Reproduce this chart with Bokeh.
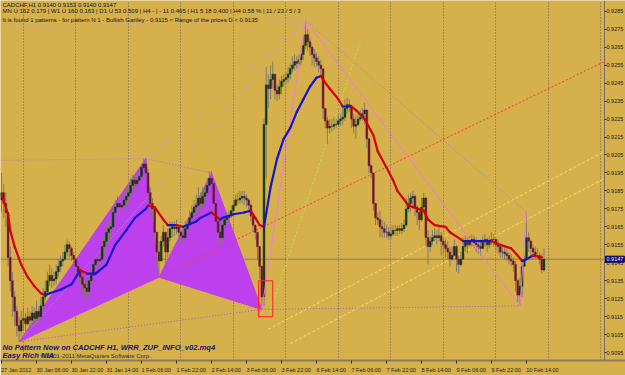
from bokeh.plotting import figure
from bokeh.models import FixedTicker, Range1d, Label
from bokeh.embed import file_html
from bokeh.resources import INLINE

# ---------------- data (CADCHF H1, bars from 27 Jan 2012 14:00) ----------------
first_open = 0.9180
close = [
 0.9184,0.9178,0.9173,0.9148,0.9135,0.9126,0.9118,0.9110,0.9107,0.9113,
 0.9114,0.9111,0.9115,0.9113,0.9117,0.9114,0.9118,0.9115,0.9121,0.9126,
 0.9129,0.9135,0.9138,0.9135,0.9136,0.9140,0.9143,0.9146,0.9147,0.9151,
 0.9155,0.9153,0.9149,0.9147,0.9143,0.9140,0.9137,0.9133,0.9131,0.9129,
 0.9135,0.9138,0.9144,0.9147,0.9146,0.9147,0.9154,0.9157,0.9162,0.9164,
 0.9165,0.9173,0.9176,0.9178,0.9176,0.9177,0.9180,0.9182,0.9184,0.9188,
 0.9191,0.9189,0.9191,0.9193,0.9198,0.9200,0.9195,0.9184,0.9178,0.9175,
 0.9162,0.9151,0.9146,0.9157,0.9162,0.9151,0.9159,0.9164,0.9165,0.9164,
 0.9165,0.9162,0.9160,0.9159,0.9164,0.9166,0.9170,0.9173,0.9176,0.9177,
 0.9181,0.9178,0.9182,0.9184,0.9188,0.9192,0.9189,0.9178,0.9168,0.9162,
 0.9159,0.9166,0.9169,0.9170,0.9171,0.9174,0.9177,0.9180,0.9180,0.9181,
 0.9182,0.9181,0.9180,0.9177,0.9171,0.9166,0.9162,0.9154,0.9143,0.9126,
 0.9222,0.9244,0.9242,0.9247,0.9250,0.9241,0.9239,0.9243,0.9246,0.9247,
 0.9248,0.9250,0.9253,0.9255,0.9257,0.9256,0.9258,0.9261,0.9266,0.9272,
 0.9268,0.9265,0.9261,0.9259,0.9257,0.9255,0.9253,0.9231,0.9224,0.9220,
 0.9221,0.9221,0.9222,0.9222,0.9224,0.9225,0.9226,0.9231,0.9233,0.9232,
 0.9225,0.9221,0.9222,0.9225,0.9226,0.9228,0.9230,0.9214,0.9199,0.9195,
 0.9178,0.9170,0.9169,0.9165,0.9164,0.9162,0.9162,0.9160,0.9161,0.9163,
 0.9163,0.9164,0.9163,0.9164,0.9166,0.9175,0.9178,0.9181,0.9182,0.9176,
 0.9173,0.9169,0.9176,0.9181,0.9159,0.9154,0.9157,0.9159,0.9160,0.9159,
 0.9160,0.9157,0.9155,0.9153,0.9151,0.9147,0.9149,0.9154,0.9147,0.9144,
 0.9147,0.9154,0.9157,0.9155,0.9157,0.9158,0.9156,0.9155,0.9154,0.9153,
 0.9157,0.9158,0.9155,0.9157,0.9158,0.9158,0.9155,0.9154,0.9151,0.9151,
 0.9150,0.9149,0.9147,0.9146,0.9144,0.9135,0.9127,0.9132,0.9143,0.9147,
 0.9159,0.9157,0.9153,0.9151,0.9149,0.9149,0.9147,0.9141,0.9147]
high = [
 0.9195,0.9189,0.9184,0.9173,0.9154,0.9140,0.9129,0.9121,0.9115,0.9118,
 0.9120,0.9117,0.9120,0.9118,0.9121,0.9120,0.9124,0.9121,0.9126,0.9131,
 0.9135,0.9140,0.9144,0.9142,0.9140,0.9144,0.9147,0.9149,0.9151,0.9155,
 0.9158,0.9157,0.9154,0.9151,0.9148,0.9144,0.9142,0.9138,0.9136,0.9135,
 0.9138,0.9143,0.9148,0.9151,0.9150,0.9151,0.9159,0.9160,0.9166,0.9168,
 0.9169,0.9177,0.9180,0.9182,0.9180,0.9181,0.9184,0.9187,0.9188,0.9192,
 0.9194,0.9193,0.9195,0.9198,0.9200,0.9203,0.9203,0.9197,0.9187,0.9181,
 0.9176,0.9162,0.9157,0.9160,0.9166,0.9160,0.9164,0.9168,0.9168,0.9168,
 0.9169,0.9166,0.9165,0.9164,0.9168,0.9169,0.9174,0.9177,0.9180,0.9183,
 0.9187,0.9184,0.9187,0.9188,0.9192,0.9196,0.9196,0.9187,0.9176,0.9169,
 0.9165,0.9170,0.9172,0.9173,0.9174,0.9177,0.9180,0.9183,0.9184,0.9185,
 0.9185,0.9185,0.9183,0.9181,0.9178,0.9170,0.9166,0.9162,0.9154,0.9143,
 0.9225,0.9254,0.9250,0.9255,0.9257,0.9247,0.9244,0.9247,0.9249,0.9250,
 0.9251,0.9254,0.9256,0.9260,0.9261,0.9260,0.9261,0.9266,0.9272,0.9280,
 0.9275,0.9270,0.9266,0.9264,0.9262,0.9260,0.9258,0.9250,0.9230,0.9226,
 0.9225,0.9225,0.9226,0.9225,0.9227,0.9228,0.9231,0.9236,0.9237,0.9236,
 0.9233,0.9228,0.9227,0.9228,0.9230,0.9231,0.9234,0.9225,0.9214,0.9200,
 0.9195,0.9177,0.9173,0.9174,0.9169,0.9168,0.9166,0.9165,0.9165,0.9166,
 0.9166,0.9166,0.9166,0.9167,0.9169,0.9181,0.9183,0.9184,0.9185,0.9183,
 0.9177,0.9174,0.9181,0.9184,0.9182,0.9163,0.9160,0.9163,0.9164,0.9163,
 0.9165,0.9162,0.9159,0.9158,0.9157,0.9154,0.9154,0.9158,0.9155,0.9149,
 0.9151,0.9159,0.9160,0.9159,0.9160,0.9161,0.9160,0.9159,0.9158,0.9158,
 0.9160,0.9161,0.9159,0.9160,0.9162,0.9161,0.9159,0.9158,0.9155,0.9155,
 0.9154,0.9153,0.9151,0.9150,0.9148,0.9146,0.9136,0.9137,0.9146,0.9149,
 0.9173,0.9162,0.9158,0.9155,0.9154,0.9153,0.9151,0.9150,0.9153]
low = [
 0.9173,0.9170,0.9165,0.9143,0.9129,0.9115,0.9110,0.9104,0.9101,0.9104,
 0.9107,0.9107,0.9110,0.9108,0.9111,0.9110,0.9113,0.9111,0.9114,0.9118,
 0.9124,0.9127,0.9132,0.9131,0.9132,0.9133,0.9137,0.9140,0.9143,0.9146,
 0.9149,0.9148,0.9146,0.9143,0.9138,0.9135,0.9132,0.9129,0.9126,0.9125,
 0.9126,0.9133,0.9137,0.9142,0.9141,0.9143,0.9147,0.9150,0.9155,0.9157,
 0.9159,0.9165,0.9170,0.9172,0.9171,0.9173,0.9175,0.9177,0.9178,0.9183,
 0.9186,0.9184,0.9187,0.9188,0.9192,0.9195,0.9189,0.9178,0.9173,0.9169,
 0.9157,0.9143,0.9137,0.9147,0.9154,0.9144,0.9148,0.9157,0.9159,0.9160,
 0.9161,0.9159,0.9157,0.9155,0.9158,0.9161,0.9165,0.9169,0.9171,0.9172,
 0.9177,0.9174,0.9176,0.9177,0.9181,0.9184,0.9184,0.9169,0.9162,0.9157,
 0.9155,0.9159,0.9166,0.9166,0.9168,0.9170,0.9173,0.9176,0.9177,0.9178,
 0.9178,0.9177,0.9176,0.9173,0.9168,0.9162,0.9158,0.9147,0.9136,0.9119,
 0.9121,0.9192,0.9231,0.9236,0.9242,0.9236,0.9235,0.9236,0.9239,0.9243,
 0.9244,0.9245,0.9247,0.9251,0.9252,0.9253,0.9254,0.9255,0.9258,0.9264,
 0.9263,0.9260,0.9255,0.9254,0.9254,0.9251,0.9248,0.9225,0.9220,0.9211,
 0.9217,0.9218,0.9219,0.9220,0.9221,0.9221,0.9222,0.9224,0.9228,0.9229,
 0.9220,0.9217,0.9214,0.9221,0.9224,0.9224,0.9222,0.9209,0.9195,0.9192,
 0.9174,0.9166,0.9166,0.9159,0.9159,0.9159,0.9159,0.9158,0.9158,0.9160,
 0.9160,0.9160,0.9161,0.9161,0.9162,0.9165,0.9173,0.9173,0.9176,0.9171,
 0.9166,0.9163,0.9168,0.9173,0.9154,0.9144,0.9151,0.9155,0.9157,0.9155,
 0.9157,0.9149,0.9150,0.9148,0.9147,0.9143,0.9146,0.9150,0.9140,0.9139,
 0.9143,0.9148,0.9151,0.9150,0.9154,0.9154,0.9153,0.9151,0.9150,0.9149,
 0.9153,0.9154,0.9151,0.9153,0.9155,0.9154,0.9152,0.9150,0.9148,0.9148,
 0.9147,0.9146,0.9144,0.9143,0.9140,0.9129,0.9123,0.9121,0.9126,0.9143,
 0.9147,0.9151,0.9148,0.9147,0.9147,0.9147,0.9144,0.9139,0.9140]

# moving average (blue while rising, red while falling), read at sample bars
ma_bar = [0,3,4,6,9,12,15,18,20,22,27,32,36,39,43,48,52,57,61,66,67,70,74,76,80,83,85,89,91,
          96,97,100,101,106,111,114,116,118,120,123,126,129,132,135,138,141,144,146,147,150,
          154,156,160,162,166,170,172,176,179,181,186,188,193,195,198,203,205,210,211,216,219,
          224,228,233,236,238,240,243,247]
ma_val = [0.9183,0.9172,0.9163,0.9154,0.9144,0.9137,0.9132,0.9128,0.9127,0.9128,0.9130,0.9133,
          0.9141,0.9139,0.9139,0.9144,0.9155,0.9163,0.9170,0.9175,0.9177,0.9176,0.9169,0.9166,
          0.9166,0.9165,0.9166,0.9168,0.9170,0.9173,0.9172,0.9169,0.9170,0.9172,0.9173,0.9174,
          0.9170,0.9166,0.9165,0.9187,0.9203,0.9214,0.9220,0.9229,0.9236,0.9243,0.9248,0.9249,
          0.9247,0.9242,0.9236,0.9232,0.9232,0.9230,0.9225,0.9216,0.9207,0.9198,0.9191,0.9185,
          0.9177,0.9176,0.9174,0.9169,0.9166,0.9165,0.9162,0.9158,0.9157,0.9157,0.9157,0.9157,
          0.9155,0.9153,0.9149,0.9146,0.9147,0.9149,0.9148]

# ZUP zigzag points: X, A, B, C, D, P (peak), L2, H2
zup_bar = [8, 66, 72, 96, 119, 139, 237, 240]
zup_val = [0.9101, 0.9203, 0.9137, 0.9195, 0.9119, 0.9280, 0.9121, 0.9173]
d_range = (0.9115, 0.9135)   # range of the prices D
d_bars = (117.5, 124.0)

# fan lines in the lower right (start bar, start price, end bar, end price)
fan_yellow = [(122.0, 0.9108, 275.66, 0.9207), (132.0, 0.9100, 275.66, 0.9192)]
fan_green = [(122.0, 0.9115, 164.0, 0.9268)]

# day separators (00:00) and time-axis labels every 16 bars
day_bars = [10, 34, 58, 82, 106, 130, 154, 178, 202, 226, 250, 274]
tick_bars = [0,16,32,48,64,80,96,112,128,144,160,176,192,208,224,240]
tick_text = ["27 Jan 2012","30 Jan 06:00","30 Jan 22:00","31 Jan 14:00","1 Feb 06:00",
             "1 Feb 22:00","2 Feb 14:00","3 Feb 06:00","3 Feb 22:00","6 Feb 14:00",
             "7 Feb 06:00","7 Feb 22:00","8 Feb 14:00","9 Feb 06:00","9 Feb 22:00","10 Feb 14:00"]
price_ticks = [round(0.9095 + 0.001 * k, 4) for k in range(20)]

# ---------------- figure ----------------
BG = "#d6b04a"
X0, X1 = -0.46, 275.66            # chart area (canvas pixels 0..604)
XW = X0 + (X1 - X0) * 625 / 604   # full canvas width, price scale lives in 604..625
Y0, Y1 = 0.90906, 0.92910
FONT = "Liberation Sans"

def px(pix):   # horizontal canvas pixel -> bar coordinate (for annotations)
    return X0 + pix * (X1 - X0) / 604.0

def py(pix):   # vertical canvas pixel -> price coordinate (for annotations)
    return Y1 - pix * (Y1 - Y0) / 365.0

p = figure(width=625, height=375, x_range=Range1d(X0, XW), y_range=Range1d(Y0, Y1),
           output_backend="svg", toolbar_location=None, y_axis_location="right",
           min_border_left=0, min_border_top=0, min_border_right=0, min_border_bottom=0,
           background_fill_color=BG, border_fill_color=BG, outline_line_color=None)

# time axis
xa = p.xaxis[0]
lab_pos = [b + (len(t) * 2.4 / 2 + 1.5) / 2.1875 for b, t in zip(tick_bars, tick_text)]
xa.ticker = FixedTicker(ticks=lab_pos, minor_ticks=tick_bars)
xa.major_label_overrides = {lp: t for lp, t in zip(lab_pos, tick_text)}
xa.major_tick_line_color = None
xa.minor_tick_line_color = "#3a3020"
xa.minor_tick_out = 3
xa.minor_tick_in = 0
xa.major_label_standoff = 0
xa.major_label_text_font = FONT
xa.major_label_text_font_size = "5.5px"
xa.major_label_text_color = "#1a1a1a"
xa.axis_line_color = "#8a7d66"
xa.axis_line_width = 2

# price axis, pinned at the right edge of the chart area
ya = p.yaxis[0]
ya.fixed_location = X1
ya.ticker = FixedTicker(ticks=price_ticks)
ya.major_label_overrides = {t: "%.4f" % t for t in price_ticks}
ya.major_tick_out = 2
ya.major_tick_in = 0
ya.major_tick_line_color = "#3a3020"
ya.minor_tick_line_color = None
ya.major_label_standoff = 0
ya.major_label_text_font = FONT
ya.major_label_text_font_size = "5.5px"
ya.major_label_text_color = "#1a1a1a"
ya.axis_line_color = "#7a6e60"
ya.axis_line_width = 1

p.ygrid.visible = False
p.xgrid[0].ticker = FixedTicker(ticks=day_bars)
p.xgrid[0].grid_line_color = "#6a5c6a"
p.xgrid[0].grid_line_dash = "1 2"
p.xgrid[0].grid_line_width = 1

# current price line (chart area only)
p.line([X0, X1], [close[-1], close[-1]], line_color="#8a7a62", line_width=1)

# ---------------- ZUP pattern ----------------
Z = dict(zip(["X", "A", "B", "C", "D", "P", "L2", "H2"], zip(zup_bar, zup_val)))
PURPLE = "#bc40ec"
for tri in (("X", "A", "B"), ("B", "C", "D")):
    p.patch([Z[k][0] for k in tri], [Z[k][1] for k in tri], fill_color=PURPLE,
            line_color=PURPLE, line_width=1)

def seg(a, b, color, dash="solid", width=1):
    p.line([a[0], b[0]], [a[1], b[1]], line_color=color, line_dash=dash, line_width=width)

for (b0, v0, b1, v1) in fan_yellow:
    seg((b0, v0), (b1, v1), "#f4e060", "3 2")
for (b0, v0, b1, v1) in fan_green:
    seg((b0, v0), (b1, v1), "#b8e060", "2 2")

# helper lines
left_top = (X0, 0.9276)
left_mid = (X0, 0.9202)
ray_end = (X1, 0.9257)
seg(left_top, Z["P"], "#c8a0e0", "1 2")
seg(left_mid, Z["A"], "#c070d8", "1 2")
seg(Z["X"], Z["P"], "#c8a0e0", "1 2")
seg(Z["A"], Z["P"], "#c8a0e0", "1 2")
seg(Z["A"], Z["C"], "#c060d8", "1 2")
seg(Z["X"], Z["D"], "#b050d8", "1 2")
seg(Z["D"], Z["L2"], "#b050d8", "1 2")
seg(Z["P"], Z["H2"], "#8c88c8", "1 2")
seg(Z["B"], ray_end, "#ff3838", "2 2")

# ---------------- candles ----------------
opens = [first_open] + close[:-1]
bars = list(range(len(close)))
p.segment(bars, high, bars, low, line_color="#857a68", line_width=1)
up = [i for i in bars if close[i] >= opens[i]]
dn = [i for i in bars if close[i] < opens[i]]
p.vbar(x=up, width=0.8, top=[close[i] for i in up], bottom=[opens[i] for i in up],
       fill_color="#0c3a10", line_color="#0c3a10", line_width=0.5)
p.vbar(x=dn, width=0.8, top=[opens[i] for i in dn], bottom=[close[i] for i in dn],
       fill_color="#6a1434", line_color="#6a1434", line_width=0.5)

# zigzag (solid violet)
for a, b in (("D", "P"), ("P", "L2"), ("L2", "H2")):
    seg(Z[a], Z[b], "#ee78e8", "solid", 1)

# D price range box
p.quad(left=d_bars[0], right=d_bars[1], bottom=d_range[0], top=d_range[1],
       fill_color=None, line_color="#ff2020", line_width=1)

# moving average coloured by direction
mx0, my0, mx1, my1, mc = [], [], [], [], []
for k in range(len(ma_bar) - 1):
    mx0.append(ma_bar[k]); my0.append(ma_val[k])
    mx1.append(ma_bar[k + 1]); my1.append(ma_val[k + 1])
    mc.append("#1515d0" if ma_val[k + 1] >= ma_val[k] else "#d80000")
p.segment(mx0, my0, mx1, my1, line_color=mc, line_width=2.2, line_cap="round")

# ---------------- texts ----------------
def label(x, y, txt, size, color="#141414", style="normal", **kw):
    p.add_layout(Label(x=x, y=y, text=txt, text_font=FONT, text_font_size=size,
                       text_color=color, text_font_style=style, text_baseline="middle", **kw))

label(px(2), py(5), "CADCHF,H1  0.9140 0.9153 0.9140 0.9147", "6px")
label(px(2), py(11), "MN U 162   0.179  |  W1 U 160   0.163  |  D1 U 53   0.509  |  H4 -  |  - 11   0.465  |  H1 5 18   0.400  |  H4   0.58 %  |  11 / 23 / 5 / 3", "6px")
label(px(2), py(20), "It is found 1 patterns  -  for pattern N 1 - Bullish Gartley - 0.9115 < Range of the prices D < 0.9135", "6px")
label(px(40), py(360), "\u00a9 2001-2011 MetaQuotes Software Corp.", "6px", "#2a2a2a")
label(px(2), py(352), "No Pattern Now on CADCHF H1,  WRR_ZUP_INFO_v02.mq4", "7.6px", "#141470", "bold italic")
label(px(2), py(360), "Easy Rich NIA", "7.6px", "#141470", "bold italic")

# current price marker on the price scale
label(X1, close[-1], "%.4f" % close[-1], "5.5px", "white", x_offset=1,
      background_fill_color="#000070", border_line_color="#000070", padding=1)

open("out.html", "w").write(file_html(p, INLINE))
